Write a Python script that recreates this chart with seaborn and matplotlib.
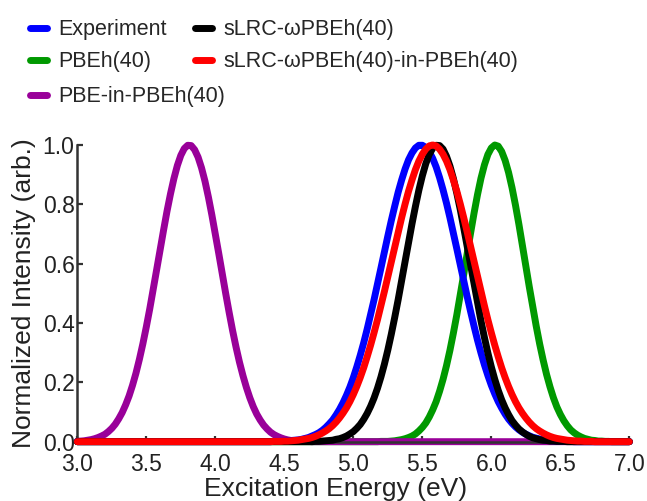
"""
Normalized excitation spectra: experiment vs. full and embedded calculations.
"""

import numpy as np
import matplotlib
matplotlib.use('Agg')
import matplotlib.pyplot as plt
import seaborn as sns
from matplotlib.lines import Line2D


# excitation energy grid (eV), 3.0 .. 7.0 in 0.025 steps (161 points)
ENERGY = np.round(np.linspace(3.0, 7.0, 161), 3)

# normalized intensities, one value per grid point,
# ten points (0.25 eV) per row
EXPERIMENT = [
    0, 0, 0, 0, 0, 0, 0, 0, 0, 0,
    0, 0, 0, 0, 0, 0, 0, 0, 0, 0,
    0, 0, 0, 0, 0, 0, 0, 0, 0, 0,
    0, 0, 0, 0, 0, 0, 0, 0, 0, 0,
    0, 0, 0, 0, 0, 0, 0, 0, 0, 0,
    0, 0, 0, 0, 0, 0, 0, 0.001, 0.001, 0.001,
    0.002, 0.003, 0.004, 0.005, 0.006, 0.008, 0.011, 0.014, 0.019, 0.024,
    0.030, 0.038, 0.048, 0.060, 0.073, 0.090, 0.109, 0.131, 0.156, 0.184,
    0.216, 0.252, 0.291, 0.333, 0.379, 0.428, 0.478, 0.531, 0.585, 0.639,
    0.693, 0.745, 0.794, 0.841, 0.882, 0.919, 0.950, 0.973, 0.990, 0.999,
    0.999, 0.992, 0.977, 0.955, 0.926, 0.890, 0.849, 0.804, 0.755, 0.703,
    0.650, 0.596, 0.542, 0.489, 0.438, 0.389, 0.342, 0.299, 0.259, 0.223,
    0.190, 0.161, 0.135, 0.113, 0.093, 0.076, 0.062, 0.050, 0.040, 0.032,
    0.025, 0.020, 0.015, 0.012, 0.009, 0.007, 0.005, 0.004, 0.003, 0.002,
    0.001, 0.001, 0.001, 0.001, 0, 0, 0, 0, 0, 0,
    0, 0, 0, 0, 0, 0, 0, 0, 0, 0,
    0,
]
PBEH40 = [
    0, 0, 0, 0, 0, 0, 0, 0, 0, 0,
    0, 0, 0, 0, 0, 0, 0, 0, 0, 0,
    0, 0, 0, 0, 0, 0, 0, 0, 0, 0,
    0, 0, 0, 0, 0, 0, 0, 0, 0, 0,
    0, 0, 0, 0, 0, 0, 0, 0, 0, 0,
    0, 0, 0, 0, 0, 0, 0, 0, 0, 0,
    0, 0, 0, 0, 0, 0, 0, 0, 0, 0,
    0, 0, 0, 0, 0, 0, 0, 0, 0, 0,
    0, 0, 0, 0, 0, 0, 0, 0, 0.001, 0.001,
    0.001, 0.002, 0.003, 0.005, 0.007, 0.010, 0.014, 0.019, 0.026, 0.036,
    0.048, 0.063, 0.083, 0.107, 0.135, 0.170, 0.210, 0.256, 0.308, 0.366,
    0.428, 0.495, 0.564, 0.635, 0.704, 0.771, 0.833, 0.888, 0.933, 0.968,
    0.990, 1.000, 0.996, 0.978, 0.948, 0.907, 0.856, 0.797, 0.732, 0.663,
    0.592, 0.522, 0.455, 0.390, 0.330, 0.276, 0.227, 0.185, 0.148, 0.117,
    0.092, 0.071, 0.054, 0.040, 0.030, 0.022, 0.016, 0.011, 0.008, 0.005,
    0.004, 0.002, 0.002, 0.001, 0.001, 0, 0, 0, 0, 0,
    0,
]
PBE_IN_PBEH40 = [
    0.002, 0.002, 0.003, 0.005, 0.007, 0.010, 0.014, 0.019, 0.025, 0.034,
    0.045, 0.059, 0.077, 0.098, 0.124, 0.154, 0.190, 0.231, 0.278, 0.330,
    0.387, 0.448, 0.513, 0.580, 0.647, 0.713, 0.777, 0.835, 0.887, 0.931,
    0.965, 0.988, 0.999, 0.998, 0.984, 0.959, 0.923, 0.878, 0.824, 0.764,
    0.700, 0.634, 0.566, 0.500, 0.436, 0.375, 0.319, 0.268, 0.223, 0.183,
    0.148, 0.118, 0.093, 0.073, 0.056, 0.043, 0.032, 0.024, 0.018, 0.013,
    0.009, 0.006, 0.004, 0.003, 0.002, 0.001, 0.001, 0.001, 0, 0,
    0, 0, 0, 0, 0, 0, 0, 0, 0, 0,
    0, 0, 0, 0, 0, 0, 0, 0, 0, 0,
    0, 0, 0, 0, 0, 0, 0, 0, 0, 0,
    0, 0, 0, 0, 0, 0, 0, 0, 0, 0,
    0, 0, 0, 0, 0, 0, 0, 0, 0, 0,
    0, 0, 0, 0, 0, 0, 0, 0, 0, 0,
    0, 0, 0, 0, 0, 0, 0, 0, 0, 0,
    0, 0, 0, 0, 0, 0, 0, 0, 0, 0,
    0, 0, 0, 0, 0, 0, 0, 0, 0, 0,
    0,
]
SLRC = [
    0, 0, 0, 0, 0, 0, 0, 0, 0, 0,
    0, 0, 0, 0, 0, 0, 0, 0, 0, 0,
    0, 0, 0, 0, 0, 0, 0, 0, 0, 0,
    0, 0, 0, 0, 0, 0, 0, 0, 0, 0,
    0, 0, 0, 0, 0, 0, 0, 0, 0, 0,
    0, 0, 0, 0, 0, 0, 0, 0, 0, 0,
    0, 0, 0, 0, 0, 0, 0, 0, 0, 0.001,
    0.001, 0.002, 0.003, 0.004, 0.005, 0.008, 0.010, 0.014, 0.019, 0.026,
    0.034, 0.045, 0.058, 0.075, 0.095, 0.119, 0.147, 0.180, 0.218, 0.261,
    0.309, 0.362, 0.419, 0.479, 0.542, 0.607, 0.671, 0.734, 0.793, 0.848,
    0.896, 0.937, 0.968, 0.989, 0.999, 0.998, 0.986, 0.962, 0.929, 0.887,
    0.837, 0.782, 0.721, 0.658, 0.594, 0.530, 0.467, 0.407, 0.351, 0.299,
    0.252, 0.210, 0.173, 0.141, 0.114, 0.091, 0.071, 0.056, 0.043, 0.033,
    0.025, 0.018, 0.013, 0.010, 0.007, 0.005, 0.004, 0.002, 0.002, 0.001,
    0.001, 0.001, 0, 0, 0, 0, 0, 0, 0, 0,
    0, 0, 0, 0, 0, 0, 0, 0, 0, 0,
    0,
]
SLRC_IN_PBEH40 = [
    0, 0, 0, 0, 0, 0, 0, 0, 0, 0,
    0, 0, 0, 0, 0, 0, 0, 0, 0, 0,
    0, 0, 0, 0, 0, 0, 0, 0, 0, 0,
    0, 0, 0, 0, 0, 0, 0, 0, 0, 0,
    0, 0, 0, 0, 0, 0, 0, 0, 0, 0,
    0, 0, 0, 0, 0, 0, 0, 0.001, 0.001, 0.001,
    0.002, 0.002, 0.003, 0.004, 0.005, 0.007, 0.009, 0.011, 0.014, 0.018,
    0.023, 0.029, 0.036, 0.044, 0.054, 0.066, 0.080, 0.096, 0.114, 0.135,
    0.159, 0.186, 0.216, 0.249, 0.286, 0.325, 0.367, 0.411, 0.458, 0.506,
    0.556, 0.607, 0.657, 0.707, 0.755, 0.801, 0.844, 0.882, 0.917, 0.946,
    0.969, 0.986, 0.997, 1.000, 0.997, 0.986, 0.969, 0.946, 0.917, 0.882,
    0.844, 0.801, 0.755, 0.707, 0.657, 0.607, 0.556, 0.506, 0.458, 0.411,
    0.367, 0.325, 0.286, 0.249, 0.216, 0.186, 0.159, 0.135, 0.114, 0.096,
    0.080, 0.066, 0.054, 0.044, 0.036, 0.029, 0.023, 0.018, 0.014, 0.011,
    0.009, 0.007, 0.005, 0.004, 0.003, 0.002, 0.002, 0.001, 0.001, 0.001,
    0, 0, 0, 0, 0, 0, 0, 0, 0, 0,
    0,
]

X_TICKS = [3.0, 3.5, 4.0, 4.5, 5.0, 5.5, 6.0, 6.5, 7.0]
Y_TICKS = [0.0, 0.2, 0.4, 0.6, 0.8, 1.0]

NAMES = {
    'exp': 'Experiment',
    'pbeh': 'PBEh(40)',
    'pbe_in': 'PBE-in-PBEh(40)',
    'slrc': 'sLRC-\u03c9PBEh(40)',
    'slrc_in': 'sLRC-\u03c9PBEh(40)-in-PBEh(40)',
}
COLORS = {
    'exp': '#0000ff',
    'pbeh': '#009900',
    'pbe_in': '#990099',
    'slrc': '#000000',
    'slrc_in': '#ff0000',
}

sns.set_style('ticks')
plt.rcParams['font.family'] = ['Liberation Sans', 'DejaVu Sans']

fig = plt.figure(figsize=(6.47, 5.01), dpi=100)
ax = fig.add_axes([0.1195, 0.1184, 0.8532, 0.5922])

# drawing order: green & purple sit under the axis line, the rest above it
curves = [
    ('pbeh', PBEH40, 2),
    ('pbe_in', PBE_IN_PBEH40, 2),
    ('exp', EXPERIMENT, 3),
    ('slrc', SLRC, 3),
    ('slrc_in', SLRC_IN_PBEH40, 3),
]
for key, vals, z in curves:
    sns.lineplot(x=ENERGY, y=vals, ax=ax, color=COLORS[key], lw=5,
                 zorder=z, clip_on=False, solid_capstyle='round',
                 solid_joinstyle='round', legend=False)

ax.set_xlim(3.0, 7.0)
ax.set_ylim(0.0, 1.0)
ax.set_xticks(X_TICKS)
ax.set_yticks(Y_TICKS)
ax.set_xticklabels([f'{t:.1f}' for t in X_TICKS])
ax.set_yticklabels([f'{t:.1f}' for t in Y_TICKS])

sns.despine(ax=ax)
for side in ['left', 'bottom']:
    ax.spines[side].set_color('#333333')
    ax.spines[side].set_linewidth(1.8)
ax.tick_params(direction='in', length=4, width=1.6, colors='#333333',
               labelsize=16.5, labelcolor='#222222')
ax.tick_params(axis='x', pad=8.5)
ax.tick_params(axis='y', pad=2)

ax.set_xlabel('Excitation Energy (eV)', fontsize=19, color='#222222')
ax.set_ylabel('Normalized Intensity (arb.)', fontsize=19, color='#222222', labelpad=5)
ax.xaxis.set_label_coords(0.467, -0.12)
ax.xaxis.label.set_va('top')


def handle(key):
    return Line2D([0], [0], color=COLORS[key], lw=5, solid_capstyle='round')


leg_opts = dict(frameon=False, fontsize=15.5, handlelength=0.8,
                handletextpad=0.55, borderpad=0, borderaxespad=0,
                labelspacing=0.52, loc='upper left')
keys = ['exp', 'pbeh', 'slrc', 'slrc_in']
fig.legend(handles=[handle(k) for k in keys], labels=[NAMES[k] for k in keys],
           ncol=2, columnspacing=1.28, bbox_to_anchor=(0.0456, 0.962), **leg_opts)
fig.legend(handles=[handle('pbe_in')], labels=[NAMES['pbe_in']],
           bbox_to_anchor=(0.0456, 0.828), **leg_opts)

plt.savefig('out.png', dpi=100)
plt.close()
